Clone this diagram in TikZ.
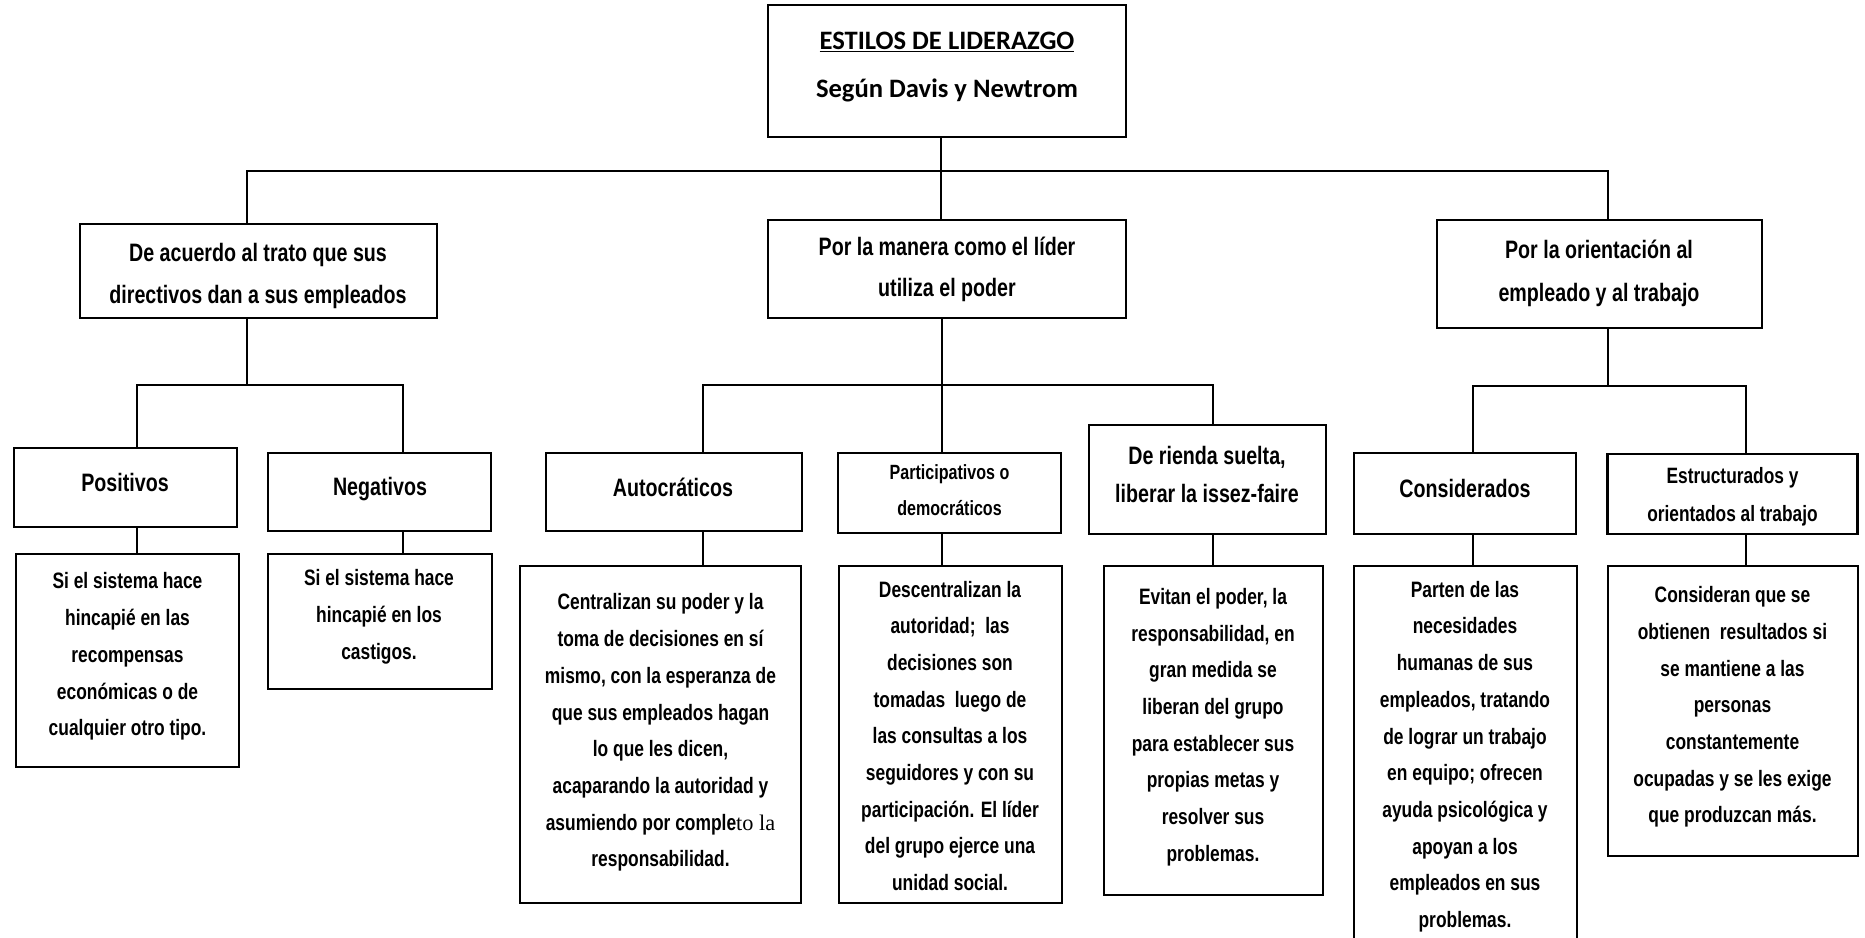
\documentclass[tikz,border=0pt]{standalone}
\usepackage{fontspec}
\setmainfont{Liberation Sans}
\newfontfamily\narrowsans[FakeStretch=0.78]{Liberation Sans}
\newfontfamily\titlefam{Carlito}
\newfontfamily\serifpart{Liberation Serif}
\newcommand\myBody{\narrowsans\bfseries\fontsize{22.3}{36.7}\selectfont}
\newcommand\myHead[2]{\narrowsans\bfseries\fontsize{#1}{#2}\selectfont}
\newcommand\myTitle{\titlefam\bfseries\fontsize{26.6}{48}\selectfont}
\tikzset{
  box/.style={draw=black, line width=2.6pt, inner sep=0pt, outer sep=0pt, fill=none},
  txt/.style={align=center, inner sep=0pt, outer sep=0pt, text=black,
    execute at begin node=\strut, execute at end node=\strut},
  conn/.style={draw=black, line width=2pt}
}
\begin{document}
\begin{tikzpicture}[x=1pt,y=-1pt]
\useasboundingbox (0,0) rectangle (1865,937);
\fill[white] (0,0) rectangle (1865,937);

% ---------- title ----------
\node[box, minimum width=358pt, minimum height=132pt] (title) at (947,71) {};
\node[txt, font=\myTitle] (title-t) at (947,64) {\strut\underline{ESTILOS DE LIDERAZGO}\\Según Davis y Newtrom};

% ---------- level 1 ----------
\node[box, minimum width=357pt, minimum height=94pt] (l1a) at (258.5,271) {};
\node[txt, font={\myHead{25.2}{42}}] (l1a-t) at (258,274) {\strut De acuerdo al trato que sus\\directivos dan a sus empleados};

\node[box, minimum width=358pt, minimum height=98pt] (l1b) at (947,269) {};
\node[txt, font={\myHead{25.2}{41}}] (l1b-t) at (947,267.5) {\strut Por la manera como el líder\\utiliza el poder};

\node[box, minimum width=325pt, minimum height=108pt] (l1c) at (1599.5,274) {};
\node[txt, font={\myHead{25.2}{43}}] (l1c-t) at (1599,271) {\strut Por la orientación al\\empleado y al trabajo};

% ---------- level 2 ----------
\node[box, minimum width=223pt, minimum height=79pt] (pos) at (125.5,487.5) {};
\node[txt, font={\myHead{25.2}{40}}] (pos-t) at (125,483) {\strut Positivos};

\node[box, minimum width=223pt, minimum height=78pt] (neg) at (379.5,492) {};
\node[txt, font={\myHead{25.2}{40}}] (neg-t) at (380,487) {\strut Negativos};

\node[box, minimum width=256pt, minimum height=78pt] (auto) at (674,492) {};
\node[txt, font={\myHead{25.2}{40}}] (auto-t) at (673,488) {\strut Autocráticos};

\node[box, minimum width=223pt, minimum height=80pt] (pa) at (949.5,493) {};
\node[txt, font={\myHead{20.6}{36}}] (pa-t) at (949.5,490) {\strut Participativos o\\democráticos};

\node[box, minimum width=237pt, minimum height=109pt] (rie) at (1207.5,479.5) {};
\node[txt, font={\myHead{25.2}{38}}] (rie-t) at (1207,476) {\strut De rienda suelta,\\liberar la issez-faire};

\node[box, minimum width=222pt, minimum height=81pt] (con) at (1465,493.5) {};
\node[txt, font={\myHead{25.2}{40}}] (con-t) at (1465,489) {\strut Considerados};

\node[box, minimum width=250pt, minimum height=80pt] (est) at (1732.5,494) {};
\node[txt, font={\myHead{22.2}{38}}] (est-t) at (1732.5,494.5) {\strut Estructurados y\\orientados al trabajo};

% ---------- descriptions ----------
\node[box, minimum width=223pt, minimum height=213pt] (pd) at (127.5,660.5) {};
\node[txt, font=\myBody] (pd-t) at (127.5,655) {\strut Si el sistema hace\\hincapié en las\\recompensas\\económicas o de\\cualquier otro tipo.};

\node[box, minimum width=224pt, minimum height=135pt] (nd) at (380,621.5) {};
\node[txt, font=\myBody] (nd-t) at (379,615) {\strut Si el sistema hace\\hincapié en los\\castigos.};

\node[box, minimum width=281pt, minimum height=337pt] (ad) at (660.5,734.5) {};
\node[txt, font=\myBody] (ad-t) at (660.5,731) {\strut Centralizan su poder y la\\toma de decisiones en sí\\mismo, con la esperanza de\\que sus empleados hagan\\lo que les dicen,\\acaparando la autoridad y\\asumiendo por comple{\serifpart\mdseries to la}\\responsabilidad.};

\node[box, minimum width=223pt, minimum height=337pt] (pad) at (950.5,734.5) {};
\node[txt, font=\myBody] (pad-t) at (950,736.5) {\strut Descentralizan la\\autoridad;\ \ las\\decisiones son\\tomadas\ \ luego de\\las consultas a los\\seguidores y con su\\participación. El líder\\del grupo ejerce una\\unidad social.};

\node[box, minimum width=219pt, minimum height=329pt] (rd) at (1213.5,730.5) {};
\node[txt, font=\myBody] (rd-t) at (1213,725.5) {\strut Evitan el poder, la\\responsabilidad, en\\gran medida se\\liberan del grupo\\para establecer sus\\propias metas y\\resolver sus\\problemas.};

\node[box, minimum width=223pt, minimum height=384pt] (cd) at (1465.5,758) {};
\node[txt, font=\myBody] (cd-t) at (1465,755) {\strut Parten de las\\necesidades\\humanas de sus\\empleados, tratando\\de lograr un trabajo\\en equipo; ofrecen\\ayuda psicológica y\\apoyan a los\\empleados en sus\\problemas.};

\node[box, minimum width=250pt, minimum height=290pt] (ed) at (1733,711) {};
\node[txt, font=\myBody] (ed-t) at (1732.5,705.5) {\strut Consideran que se\\obtienen\ \ resultados si\\se mantiene a las\\personas\\constantemente\\ocupadas y se les exige\\que produzcan más.};

% ---------- connectors ----------
\coordinate (bus0) at (941,171);
\coordinate (busL) at (247,385);
\coordinate (busM) at (941,385);
\coordinate (busR) at (1608,386);

\draw[conn] ([xshift=-6pt]title.south) -- ([xshift=-6pt]l1b.north);
\draw[conn] ([xshift=-11.5pt]l1a.north) -- ([xshift=-11.5pt]l1a.north |- bus0)
  -- ([xshift=8.5pt]l1c.north |- bus0) -- ([xshift=8.5pt]l1c.north);

% left group
\draw[conn] ([xshift=-11.5pt]l1a.south) -- ([xshift=-11.5pt]l1a.south |- busL);
\draw[conn] ([xshift=11.5pt]pos.north) -- ([xshift=11.5pt]pos.north |- busL)
  -- ([xshift=23.5pt]neg.north |- busL) -- ([xshift=23.5pt]neg.north);
\draw[conn] ([xshift=11.5pt]pos.south) -- ([xshift=11.5pt]pos.south |- pd.north);
\draw[conn] ([xshift=23.5pt]neg.south) -- ([xshift=23.5pt]neg.south |- nd.north);

% middle group
\draw[conn] ([xshift=-5.5pt]l1b.south) -- ([xshift=-5.5pt]l1b.south |- pa.north);
\draw[conn] ([xshift=29pt]auto.north) -- ([xshift=29pt]auto.north |- busM)
  -- ([xshift=5.5pt]rie.north |- busM) -- ([xshift=5.5pt]rie.north);
\draw[conn] ([xshift=29pt]auto.south) -- ([xshift=29pt]auto.south |- ad.north);
\draw[conn] ([xshift=-8pt]pa.south) -- ([xshift=-8pt]pa.south |- pad.north);
\draw[conn] ([xshift=5.5pt]rie.south) -- ([xshift=5.5pt]rie.south |- rd.north);

% right group
\draw[conn] ([xshift=8.5pt]l1c.south) -- ([xshift=8.5pt]l1c.south |- busR);
\draw[conn] ([xshift=8pt]con.north) -- ([xshift=8pt]con.north |- busR)
  -- ([xshift=13.5pt]est.north |- busR) -- ([xshift=13.5pt]est.north);
\draw[conn] ([xshift=8pt]con.south) -- ([xshift=8pt]con.south |- cd.north);
\draw[conn] ([xshift=13.5pt]est.south) -- ([xshift=13.5pt]est.south |- ed.north);
\end{tikzpicture}
\end{document}
